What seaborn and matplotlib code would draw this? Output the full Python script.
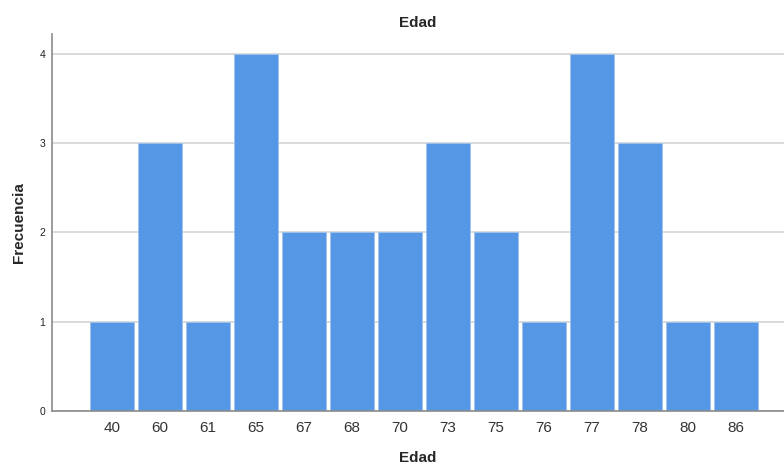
import pandas as pd
import matplotlib.pyplot as plt
import seaborn as sns

# Age categories and their frequencies
edades = ["40", "60", "61", "65", "67", "68", "70", "73", "75", "76", "77", "78", "80", "86"]
frecuencias = [1, 3, 1, 4, 2, 2, 2, 3, 2, 1, 4, 3, 1, 1]

df = pd.DataFrame({"Edad": edades, "Frecuencia": frecuencias})

sns.set_style("white")
plt.rcParams["font.family"] = ["Liberation Sans", "DejaVu Sans"]

fig = plt.figure(figsize=(7.84, 4.65), dpi=100)
ax = fig.add_axes([0.0663, 0.116, 0.9337, 0.811])

sns.barplot(
    data=df, x="Edad", y="Frecuencia", order=edades,
    color="#5596e5", saturation=1, width=0.9,
    edgecolor="#9fc3ee", linewidth=0.6, ax=ax,
)

ax.set_xlim(-1.25, 14.0)
ax.set_ylim(0, 4.22)
ax.set_yticks([0, 1, 2, 3, 4])
ax.yaxis.grid(True, color="#d4d4d4", linewidth=1.2)
ax.set_axisbelow(True)

for side in ["top", "right"]:
    ax.spines[side].set_visible(False)
for side in ["left", "bottom"]:
    ax.spines[side].set_color("#8a8a8a")
    ax.spines[side].set_linewidth(1.2)

ax.tick_params(axis="x", length=0, labelsize=11, labelcolor="#333333", pad=7)
ax.tick_params(axis="y", length=0, labelsize=7.5, labelcolor="#222222", pad=5)

ax.set_title("Edad", fontsize=11, fontweight="bold", pad=5)
ax.set_xlabel("Edad", fontsize=11, fontweight="bold", labelpad=12)
ax.set_ylabel("Frecuencia", fontsize=11, fontweight="bold")
ax.yaxis.set_label_coords(-0.036, 0.5)

fig.savefig("out.png", dpi=100)
